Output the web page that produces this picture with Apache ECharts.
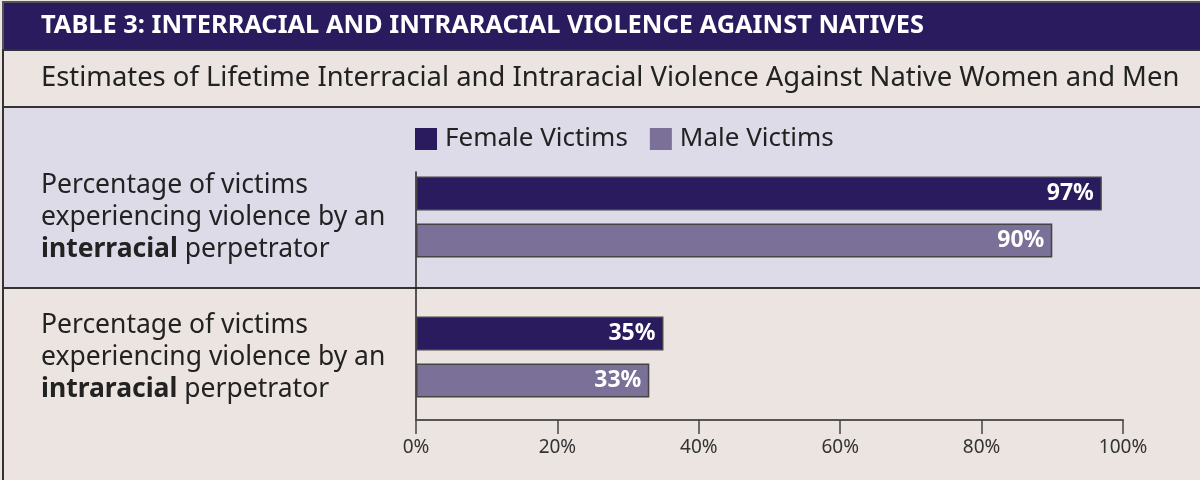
<!DOCTYPE html>
<html>
<head>
<meta charset="utf-8">
<title>Interracial and Intraracial Violence Against Natives</title>
<script src="https://cdn.jsdelivr.net/npm/echarts@6/dist/echarts.min.js"></script>
<style>
  html, body { margin: 0; padding: 0; background: #ebe4e1; }
  #chart { width: 1200px; height: 480px; }
</style>
</head>
<body>
<div id="chart"></div>
<script>
// chart data
const categories = [
  "Percentage of victims\nexperiencing violence by an\n{b|interracial} perpetrator",
  "Percentage of victims\nexperiencing violence by an\n{b|intraracial} perpetrator"
];
const femaleVictims = [97, 35];
const maleVictims = [90, 33];
const xTicks = [0, 20, 40, 60, 80, 100];

const purple = "#2a1a5e";
const lilac = "#7a7098";

let myChart = echarts.init(document.getElementById("chart"));
myChart.setOption({
  animation: false,
  textStyle: { fontFamily: "Noto Sans" },
  // table frame and row bands
  graphic: [
    { type: "rect", z: -10, shape: { x: 3, y: 2, width: 1200, height: 48 }, style: { fill: purple, stroke: "#555", lineWidth: 2 } },
    { type: "rect", z: -10, shape: { x: 3, y: 50, width: 1200, height: 57 }, style: { fill: "#ebe4e1", stroke: "#333", lineWidth: 2 } },
    { type: "rect", z: -10, shape: { x: 3, y: 107, width: 1200, height: 181 }, style: { fill: "#dddbe8", stroke: "#333", lineWidth: 2 } },
    { type: "rect", z: -10, shape: { x: 3, y: 288, width: 1200, height: 200 }, style: { fill: "#ebe4e1", stroke: "#333", lineWidth: 2 } }
  ],
  title: [
    {
      text: "TABLE 3: INTERRACIAL AND INTRARACIAL VIOLENCE AGAINST NATIVES",
      left: 41, top: 12, padding: 0,
      textStyle: { color: "#fff", fontSize: 25.4, fontWeight: "bold", lineHeight: 28, fontFamily: "Noto Sans" }
    },
    {
      text: "Estimates of Lifetime Interracial and Intraracial Violence Against Native Women and Men",
      left: 41, top: 63, padding: 0,
      textStyle: { color: "#222", fontSize: 27.4, fontWeight: "normal", lineHeight: 30, fontFamily: "Noto Sans" }
    }
  ],
  legend: {
    left: 415, top: 126, padding: 0,
    itemWidth: 22, itemHeight: 22, itemGap: 22,
    icon: "rect",
    itemStyle: { borderWidth: 0 },
    textStyle: { fontSize: 26, color: "#222", padding: [0, 0, 0, 3] },
    data: ["Female Victims", "Male Victims"]
  },
  grid: [
    { left: 416, right: 77, top: 147, bottom: 53 },
    { left: 416, right: 77, top: 172, bottom: 60 }
  ],
  xAxis: [
    {
      gridIndex: 0, type: "value", min: 0, max: 100, interval: 20, offset: -7,
      axisLine: { show: true, lineStyle: { color: "#555", width: 2 } },
      axisTick: { show: true, length: 14, lineStyle: { color: "#444", width: 1.5 } },
      axisLabel: { formatter: "{value}%", fontSize: 19, color: "#333", margin: 18 },
      splitLine: { show: false }
    },
    { gridIndex: 1, type: "value", show: false }
  ],
  yAxis: [
    {
      gridIndex: 0, type: "category", inverse: true, data: categories,
      axisLine: { show: false }, axisTick: { show: false },
      axisLabel: {
        align: "left", margin: 375, fontSize: 26.5, lineHeight: 32, color: "#222",
        rich: { b: { fontWeight: "bold", fontSize: 26.5, color: "#222" } }
      }
    },
    {
      gridIndex: 1, type: "value",
      axisLine: { show: true, lineStyle: { color: "#222", width: 1.5 } },
      axisTick: { show: false }, axisLabel: { show: false }, splitLine: { show: false }
    }
  ],
  series: [
    {
      name: "Female Victims", type: "bar", data: femaleVictims,
      barWidth: 34, barGap: "38%",
      itemStyle: { color: purple, borderColor: "#444", borderWidth: 1.5 },
      label: { show: true, position: "insideRight", distance: 8, formatter: "{c}%", color: "#fff", fontWeight: "bold", fontSize: 23 }
    },
    {
      name: "Male Victims", type: "bar", data: maleVictims,
      barWidth: 34, barGap: "38%",
      itemStyle: { color: lilac, borderColor: "#444", borderWidth: 1.5 },
      label: { show: true, position: "insideRight", distance: 8, formatter: "{c}%", color: "#fff", fontWeight: "bold", fontSize: 23 }
    }
  ]
});
</script>
</body>
</html>
